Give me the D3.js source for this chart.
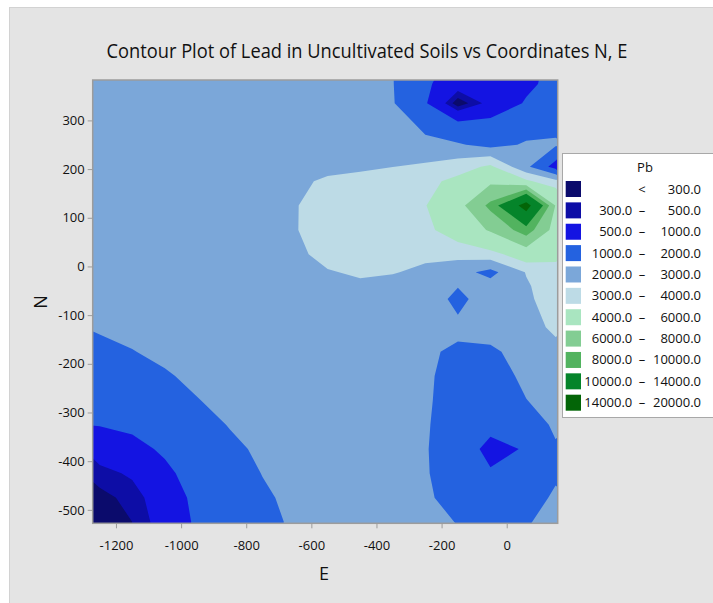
<!DOCTYPE html>
<html>
<head>
<meta charset="utf-8">
<script src="https://cdn.jsdelivr.net/npm/d3@7"></script>
<style>
  body { margin: 0; background: #fff; }
  svg { display: block; font-family: "Open Sans", "Noto Sans", sans-serif; }
</style>
</head>
<body>
<svg id="chart" width="713" height="603"></svg>
<script>
// grid of Pb values: columns are E, rows are N (top row first)
var eCols = [-1250, -1150, -1050, -950, -850, -750, -650, -550, -450, -350, -250, -150, -50, 60, 150];
var nRows = [425, 375, 335, 250, 205, 175, 125, 75, 25, -12, -40, -67, -125, -175, -225, -275, -325, -375, -425, -475, -525, -575];
var pb = [
  [2600, 2600, 2650, 2650, 2650, 2600, 2600, 2600, 2550, 2020, 1150,  900,  900,   850, 1100],
  [2600, 2600, 2650, 2650, 2650, 2650, 2600, 2600, 2550, 2030, 1080,  700,  800,   900, 1150],
  [2600, 2650, 2650, 2700, 2700, 2650, 2600, 2600, 2550, 2060, 1050,  150,  620,  1050, 1500],
  [2600, 2650, 2700, 2700, 2700, 2700, 2650, 2650, 2650, 2500, 2300, 2100, 1700,  2100, 2100],
  [2600, 2650, 2700, 2700, 2750, 2750, 2750, 2800, 2850, 2990, 3150, 3530, 4200,  2200,  600],
  [2600, 2650, 2700, 2750, 2750, 2800, 2850, 3110, 3270, 3450, 3700, 4300, 5600,  4200, 3300],
  [2600, 2650, 2700, 2750, 2800, 2850, 2950, 3400, 3550, 3750, 3950, 5300, 8500, 15500, 5900],
  [2600, 2650, 2700, 2750, 2800, 2850, 2950, 3450, 3600, 3800, 3700, 4700, 6200,  9000, 5200],
  [2600, 2650, 2700, 2700, 2750, 2750, 2750, 3350, 3500, 3600, 3150, 3300, 3550,  4800, 4300],
  [2510, 2550, 2600, 2650, 2650, 2700, 2700, 2920, 3150, 3040, 2850, 2360, 1700,  3050, 3600],
  [2400, 2460, 2530, 2600, 2650, 2650, 2700, 2800, 2800, 2750, 2700, 2050, 2400,  2900, 3500],
  [2300, 2380, 2500, 2550, 2600, 2600, 2650, 2700, 2450, 2500, 2650, 1700, 2600,  2850, 3400],
  [2070, 2170, 2300, 2450, 2550, 2600, 2600, 2600, 2600, 2600, 2600, 2240, 2500,  2600, 3200],
  [1830, 1980, 2130, 2290, 2450, 2550, 2600, 2600, 2600, 2600, 2150, 1830, 1800,  2450, 2700],
  [1560, 1700, 1940, 2130, 2310, 2500, 2550, 2600, 2600, 2600, 2200, 1500, 1450,  2250, 2600],
  [1290, 1420, 1660, 1980, 2170, 2370, 2550, 2600, 2600, 2600, 2180, 1400, 1300,  1980, 2400],
  [1020, 1120, 1370, 1710, 2040, 2240, 2460, 2550, 2600, 2600, 2120, 1350, 1150,  1500, 2150],
  [ 690,  820, 1090, 1470, 1840, 2130, 2350, 2550, 2600, 2550, 2080, 1300,  850,  1040, 1900],
  [ 400,  550,  870, 1260, 1650, 2020, 2250, 2490, 2550, 2550, 2100, 1350, 1050,  1250, 1850],
  [ 230,  370,  720, 1130, 1510, 1890, 2170, 2420, 2550, 2550, 2200, 1500, 1250,  1550, 2150],
  [ 130,  300,  660, 1080, 1440, 1790, 2110, 2370, 2550, 2550, 2400, 1950, 1350,  1900, 2400],
  [ 220,  360,  710, 1120, 1500, 1880, 2170, 2420, 2550, 2550, 2500, 2300, 1500,  2200, 2500]
];

var levels = [0, 300, 500, 1000, 2000, 3000, 4000, 6000, 8000, 10000, 14000];
var bandColors = ["#0b0b6c", "#0d0da6", "#1414e2", "#2462e0", "#7ba7d9", "#bddbe6",
                  "#a9e5c0", "#83cd93", "#52b35f", "#05842a", "#036507"];
var legendLow = ["", "300.0", "500.0", "1000.0", "2000.0", "3000.0", "4000.0", "6000.0", "8000.0", "10000.0", "14000.0"];
var legendHigh = ["300.0", "500.0", "1000.0", "2000.0", "3000.0", "4000.0", "6000.0", "8000.0", "10000.0", "14000.0", "20000.0"];
var xTicks = [-1200, -1000, -800, -600, -400, -200, 0];
var yTicks = [300, 200, 100, 0, -100, -200, -300, -400, -500];

var plotL = 92.7, plotR = 557.7, plotT = 80, plotB = 523.3;

var svg = d3.select("#chart");

svg.append("rect")
  .attr("x", 9.5).attr("y", 7.5)
  .attr("width", 720).attr("height", 610)
  .attr("fill", "#e4e4e4")
  .attr("stroke", "#d2d2d2");

var x = d3.scaleLinear().domain([-1271.5, 156.6]).range([plotL, plotR]);
var y = d3.scaleLinear().domain([-527.6, 383]).range([plotB, plotT]);

// grid index -> data coordinate (node i sits at i + 0.5)
var gx = d3.scaleLinear().domain(eCols.map(function(d, i) { return i + 0.5; })).range(eCols);
var gy = d3.scaleLinear().domain(nRows.map(function(d, i) { return i + 0.5; })).range(nRows);

var proj = d3.geoTransform({
  point: function(px, py) { this.stream.point(x(gx(px)), y(gy(py))); }
});
var path = d3.geoPath(proj);

var values = [];
pb.forEach(function(row) { row.forEach(function(v) { values.push(v); }); });

var contours = d3.contours()
  .size([eCols.length, nRows.length])
  .thresholds(levels)(values);

svg.append("clipPath").attr("id", "clip")
  .append("rect")
  .attr("x", plotL).attr("y", plotT)
  .attr("width", plotR - plotL).attr("height", plotB - plotT);

svg.append("g")
  .attr("clip-path", "url(#clip)")
  .selectAll("path")
  .data(contours)
  .join("path")
  .attr("d", path)
  .attr("fill", function(d, i) { return bandColors[i]; });

// frame
svg.append("rect")
  .attr("x", plotL).attr("y", plotT)
  .attr("width", plotR - plotL).attr("height", plotB - plotT)
  .attr("fill", "none")
  .attr("stroke", "#9c9c9c")
  .attr("stroke-width", 1.5);

// axes
var xAxis = svg.append("g")
  .attr("transform", "translate(0," + plotB + ")")
  .call(d3.axisBottom(x).tickValues(xTicks).tickSize(5).tickPadding(12).tickFormat(d3.format("d")));

var yAxis = svg.append("g")
  .attr("transform", "translate(" + plotL + ",0)")
  .call(d3.axisLeft(y).tickValues(yTicks).tickSize(5).tickPadding(3).tickFormat(d3.format("d")));

[xAxis, yAxis].forEach(function(ax) {
  ax.select(".domain").remove();
  ax.selectAll(".tick line").attr("stroke", "#9c9c9c");
  ax.selectAll(".tick text")
    .attr("fill", "#111")
    .style("font-size", "13px")
    .style("font-family", "'Open Sans', sans-serif")
    .text(function(d) { return d < 0 ? "-" + Math.abs(d) : d; });
});

// titles
svg.append("text")
  .attr("x", 367).attr("y", 58)
  .attr("text-anchor", "middle")
  .attr("textLength", 521)
  .attr("lengthAdjust", "spacingAndGlyphs")
  .style("font-size", "20px")
  .attr("fill", "#111")
  .text("Contour Plot of Lead in Uncultivated Soils vs Coordinates N, E");

svg.append("text")
  .attr("x", 324).attr("y", 580)
  .attr("text-anchor", "middle")
  .style("font-size", "18px")
  .attr("fill", "#111")
  .text("E");

svg.append("text")
  .attr("transform", "translate(47,302) rotate(-90)")
  .attr("text-anchor", "middle")
  .style("font-size", "18px")
  .attr("fill", "#111")
  .text("N");

// legend
var lg = svg.append("g");
lg.append("rect")
  .attr("x", 562.5).attr("y", 153.5)
  .attr("width", 170).attr("height", 264)
  .attr("fill", "#fff")
  .attr("stroke", "#a8a8a8");

lg.append("text")
  .attr("x", 645).attr("y", 172)
  .attr("text-anchor", "middle")
  .style("font-size", "13px")
  .attr("fill", "#111")
  .text("Pb");

var rowY = d3.scaleLinear().domain([0, 10]).range([189, 402.7]);

bandColors.forEach(function(c, i) {
  var cy = rowY(i);
  lg.append("rect")
    .attr("x", 565.7).attr("y", cy - 8)
    .attr("width", 15.3).attr("height", 16)
    .attr("fill", c);
  lg.append("text")
    .attr("x", 632.3).attr("y", cy + 4.5)
    .attr("text-anchor", "end")
    .style("font-size", "13px")
    .attr("fill", "#111")
    .text(legendLow[i]);
  lg.append("text")
    .attr("x", 642).attr("y", cy + 4.5)
    .attr("text-anchor", "middle")
    .style("font-size", "13px")
    .attr("fill", "#111")
    .text(i === 0 ? "<" : "\u2013");
  lg.append("text")
    .attr("x", 701).attr("y", cy + 4.5)
    .attr("text-anchor", "end")
    .style("font-size", "13px")
    .attr("fill", "#111")
    .text(legendHigh[i]);
});
</script>
</body>
</html>
